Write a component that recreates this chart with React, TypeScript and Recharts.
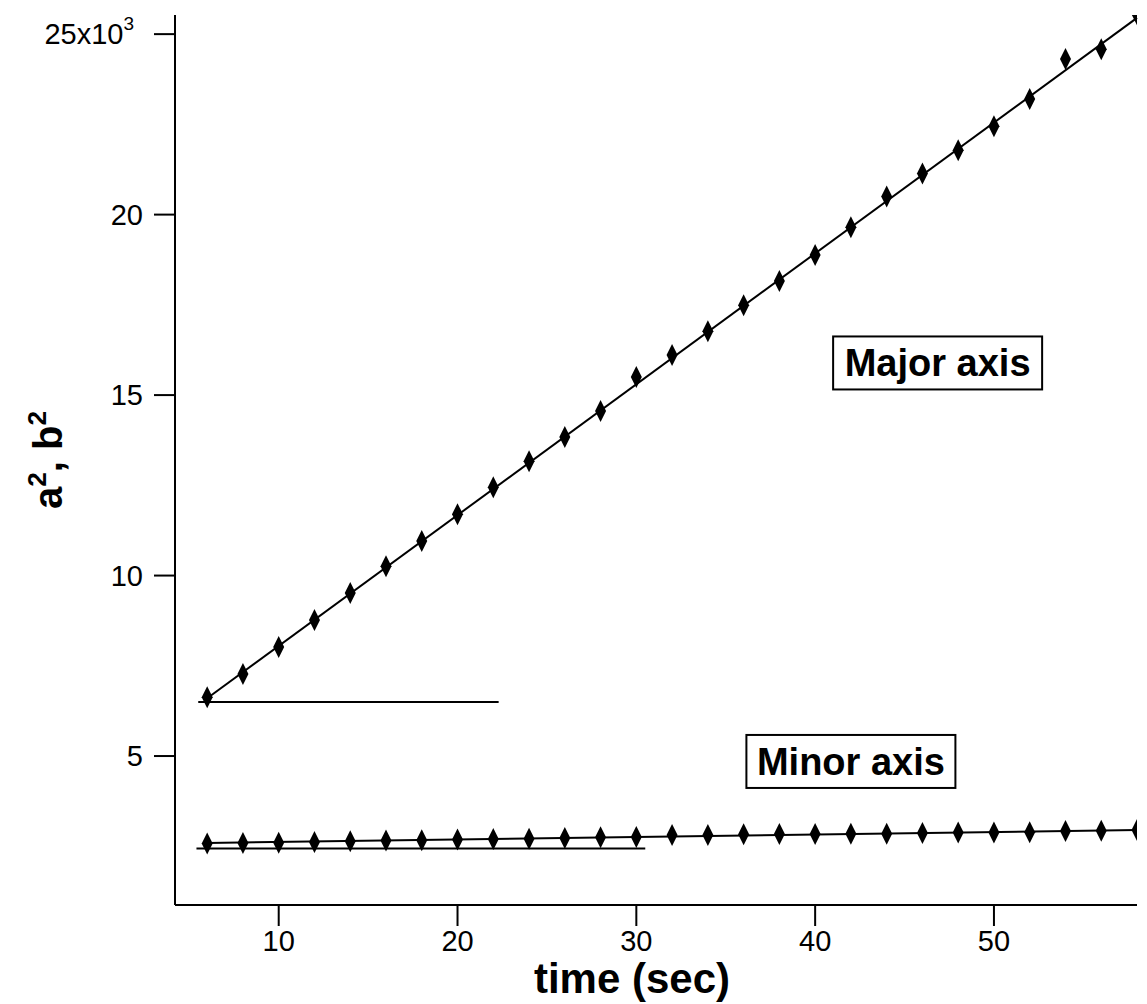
import React from 'react'
import { ComposedChart, Scatter, XAxis, YAxis, ReferenceLine, ReferenceDot } from 'recharts'

const FONT = '"Liberation Sans", Arial, Helvetica, sans-serif'

// time (sec)
const times = [6, 8, 10, 12, 14, 16, 18, 20, 22, 24, 26, 28, 30, 32, 34, 36, 38, 40, 42, 44, 46, 48, 50, 52, 54, 56, 58]
// a^2 (major axis squared)
const majorSq = [6630, 7270, 8020, 8770, 9520, 10260, 10960, 11700, 12450, 13170, 13840, 14560, 15500, 16110, 16770, 17490, 18160, 18880, 19650, 20500, 21140, 21780, 22450, 23200, 24310, 24580, 25550]
// b^2 (minor axis squared)
const minorSq = [2580, 2590, 2600, 2620, 2640, 2660, 2670, 2690, 2700, 2710, 2730, 2750, 2760, 2810, 2810, 2830, 2840, 2840, 2850, 2850, 2870, 2880, 2880, 2890, 2920, 2930, 2950]

// fitted lines and baseline segments
const majorFit = [{ t: 6, v: 6600 }, { t: 58, v: 25450 }]
const minorFit = [{ t: 6, v: 2590 }, { t: 58, v: 2950 }]
const majorBase = [{ t: 5.5, v: 6500 }, { t: 22.3, v: 6500 }]
const minorBase = [{ t: 5.4, v: 2440 }, { t: 30.5, v: 2440 }]

const xTicks = [10, 20, 30, 40, 50]
const yTicks = [5000, 10000, 15000, 20000, 25000]

const notes = [
  { label: 'Major axis', t: 46.85, v: 15890 },
  { label: 'Minor axis', t: 42.0, v: 4850 },
]

const majorData = times.map((t, i) => ({ t, v: majorSq[i] }))
const minorData = times.map((t, i) => ({ t, v: minorSq[i] }))

const Diamond = (props: any) => {
  const { cx, cy } = props
  if (cx == null || cy == null) return null
  return <path d={`M${cx},${cy - 11}L${cx + 5.5},${cy}L${cx},${cy + 11}L${cx - 5.5},${cy}Z`} fill="#000" />
}

const YTick = (props: any) => {
  const { x, y, payload } = props
  const v = payload.value
  const common = { y, dy: '0.355em', textAnchor: 'end' as const, fontFamily: FONT, fontSize: 29, fill: '#000' }
  if (v === 25000) {
    return (
      <text x={x - 9} {...common}>
        25x10<tspan dy={-14} fontSize={19}>3</tspan>
      </text>
    )
  }
  return <text x={x} {...common}>{v / 1000}</text>
}

const XTick = (props: any) => {
  const { x, y, payload } = props
  return (
    <text x={x} y={y} dy="0.71em" textAnchor="middle" fontFamily={FONT} fontSize={29} fill="#000">
      {payload.value}
    </text>
  )
}

const NoteBox = ({ label }: { label: string }) => (props: any) => {
  const { cx, cy } = props
  const w = 209
  const h = 53
  return (
    <g>
      <rect x={cx - w / 2} y={cy - h / 2} width={w} height={h} fill="#fff" stroke="#000" strokeWidth={2} />
      <text x={cx} y={cy} dy="0.355em" textAnchor="middle" fontFamily={FONT} fontWeight="bold" fontSize={38} fill="#000">
        {label}
      </text>
    </g>
  )
}

const YTitle = (props: any) => {
  const { viewBox } = props
  const cx = 62
  const cy = viewBox.y + viewBox.height / 2
  return (
    <text x={cx} y={cy} transform={`rotate(-90, ${cx}, ${cy})`} textAnchor="middle" fontFamily={FONT} fontWeight="bold" fontSize={40} fill="#000">
      a<tspan dy={-16} fontSize={26}>2</tspan>
      <tspan dy={16}>, b</tspan>
      <tspan dy={-16} fontSize={26}>2</tspan>
    </text>
  )
}

const XTitle = (props: any) => {
  const { viewBox } = props
  const cx = viewBox.x + viewBox.width / 2 - 24
  return (
    <text x={cx} y={993} textAnchor="middle" fontFamily={FONT} fontWeight="bold" fontSize={42} fill="#000">
      time (sec)
    </text>
  )
}

export default function App() {
  return (
    <div style={{ position: 'absolute', left: 0, top: 0, background: '#fff' }}>
      <ComposedChart width={1147} height={1004} margin={{ top: 15, right: 10, bottom: 0, left: 0 }}>
        <XAxis
          type="number"
          dataKey="t"
          domain={[4.2, 58]}
          allowDataOverflow
          ticks={xTicks}
          interval={0}
          height={99}
          tickSize={21}
          tickMargin={4}
          axisLine={{ stroke: '#000', strokeWidth: 2 }}
          tickLine={{ stroke: '#000', strokeWidth: 2 }}
          tick={<XTick />}
          label={{ content: <XTitle /> }}
        />
        <YAxis
          type="number"
          dataKey="v"
          domain={[873, 25530]}
          allowDataOverflow
          ticks={yTicks}
          interval={0}
          width={175}
          tickSize={21}
          tickMargin={11}
          axisLine={{ stroke: '#000', strokeWidth: 2 }}
          tickLine={{ stroke: '#000', strokeWidth: 2 }}
          tick={<YTick />}
          label={{ content: <YTitle /> }}
        />
        <ReferenceLine segment={[{ x: majorFit[0].t, y: majorFit[0].v }, { x: majorFit[1].t, y: majorFit[1].v }]} stroke="#000" strokeWidth={2} ifOverflow="visible" />
        <ReferenceLine segment={[{ x: minorFit[0].t, y: minorFit[0].v }, { x: minorFit[1].t, y: minorFit[1].v }]} stroke="#000" strokeWidth={2} ifOverflow="visible" />
        <ReferenceLine segment={[{ x: majorBase[0].t, y: majorBase[0].v }, { x: majorBase[1].t, y: majorBase[1].v }]} stroke="#000" strokeWidth={2} />
        <ReferenceLine segment={[{ x: minorBase[0].t, y: minorBase[0].v }, { x: minorBase[1].t, y: minorBase[1].v }]} stroke="#000" strokeWidth={2} />
        <Scatter data={majorData} dataKey="v" shape={<Diamond />} isAnimationActive={false} />
        <Scatter data={minorData} dataKey="v" shape={<Diamond />} isAnimationActive={false} />
        {notes.map((n) => (
          <ReferenceDot key={n.label} x={n.t} y={n.v} r={1} ifOverflow="visible" shape={NoteBox({ label: n.label })} />
        ))}
      </ComposedChart>
    </div>
  )
}
